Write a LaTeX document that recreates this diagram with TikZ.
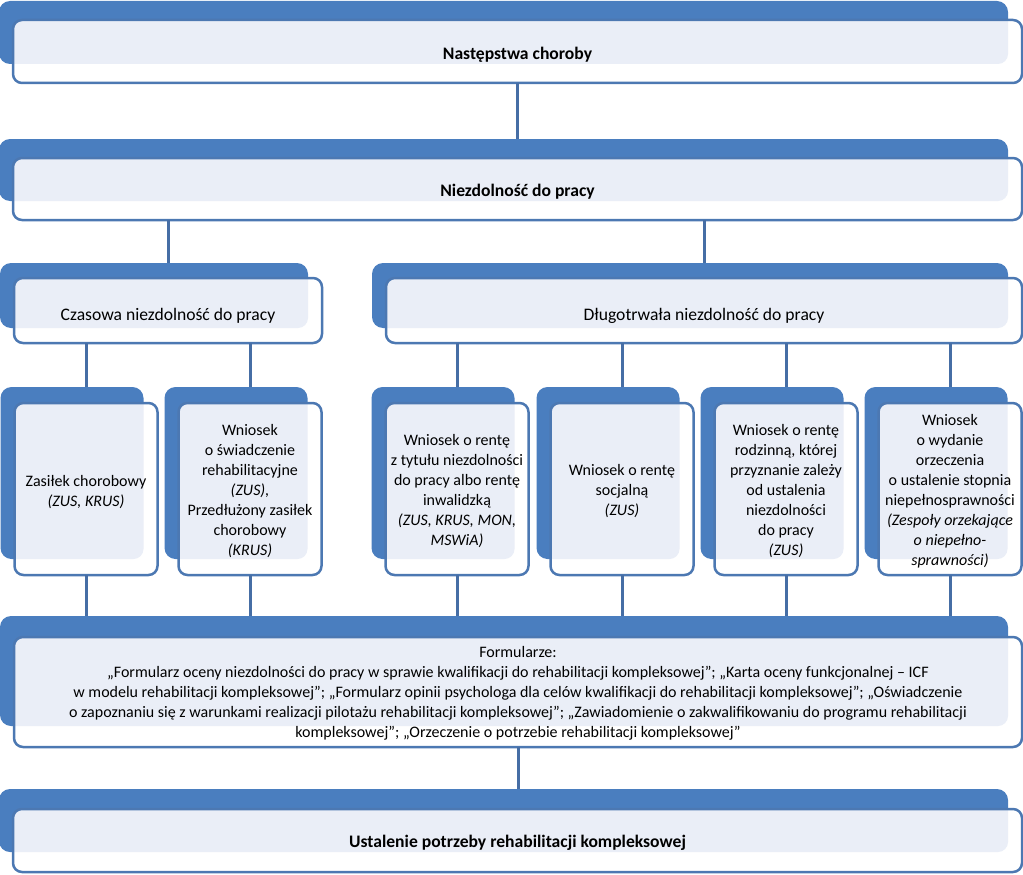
\documentclass[tikz,border=0pt]{standalone}
\usepackage{fontspec}
\setmainfont{Carlito}
\usetikzlibrary{calc}
\definecolor{backblue}{RGB}{74,126,191}
\definecolor{edgeblue}{RGB}{76,120,178}
\definecolor{lightfill}{RGB}{234,238,247}
\definecolor{connblue}{RGB}{70,110,165}
\def\bx{-14}
\def\by{-17}
\newcommand{\twobox}[7]{%
  \def\by{#6}%
  \node[backbox, minimum width=#4, minimum height=#5] (#1b) at ($(#2,#3)+(\bx,\by)$) {};
  \node[frontbox, minimum width=#4, minimum height=#5] (#1) at (#2,#3) {#7};
}
\newcommand{\lowr}[2]{\raisebox{-#1}[\height][\depth]{\begin{tabular}{@{}c@{}}#2\end{tabular}}}
\newcommand{\bigtxt}[2]{\raisebox{-#1}[\height][\depth]{\fontsize{17.6}{21}\selectfont #2}}
\begin{document}
\begin{tikzpicture}[x=1pt,y=-1pt,
  backbox/.style={fill=backblue, rounded corners=11pt, inner sep=0pt, outer sep=0pt},
  frontbox/.style={draw=edgeblue, line width=2.5pt, fill=white, rounded corners=9pt,
    inner sep=0pt, outer sep=0pt, align=center, text=black,
    font=\fontsize{16}{20}\selectfont,
    path picture={\fill[lightfill, rounded corners=10pt]
      ($(path picture bounding box.south west)+(\bx,\by)$) rectangle
      ($(path picture bounding box.north east)+(\bx,\by)$);}},
  conn/.style={draw=connblue, line width=3pt}]
\useasboundingbox (0,0) rectangle (1023,875);

\twobox{n1}{517.5}{51.5}{1009}{63}{-19}{\bigtxt{3pt}{\textbf{Następstwa choroby}}}
\twobox{n2}{517.5}{189}{1009}{62}{-19}{\bigtxt{3pt}{\textbf{Niezdolność do pracy}}}
\twobox{n3}{168}{310.5}{308}{65}{-15}{\bigtxt{5pt}{Czasowa niezdolność do pracy}}
\twobox{n4}{704}{310.5}{636}{65}{-15}{\bigtxt{5pt}{Długotrwała niezdolność do pracy}}

\twobox{n5}{86}{489}{143}{172}{-16}{\lowr{3pt}{Zasiłek chorobowy\\\textit{(ZUS, KRUS)}}}
\twobox{n6}{250}{489}{143}{172}{-16}{\lowr{2.5pt}{Wniosek\\o świadczenie\\rehabilitacyjne\\\textit{(ZUS),}\\Przedłużony zasiłek\\chorobowy\\\textit{(KRUS)}}}
\twobox{n7}{457}{489}{143}{172}{-16}{\lowr{2.5pt}{Wniosek o rentę\\z tytułu niezdolności\\do pracy albo rentę\\inwalidzką\\\textit{(ZUS, KRUS, MON,}\\\textit{MSWiA)}}}
\twobox{n8}{622}{489}{143}{172}{-16}{\lowr{2.5pt}{Wniosek o rentę\\socjalną\\\textit{(ZUS)}}}
\twobox{n9}{786}{489}{143}{172}{-16}{\lowr{2.5pt}{Wniosek o rentę\\rodzinną, której\\przyznanie zależy\\od ustalenia\\niezdolności\\do pracy\\\textit{(ZUS)}}}
\twobox{n10}{950}{489}{143}{172}{-16}{\lowr{2.5pt}{Wniosek\\o wydanie\\orzeczenia\\o ustalenie stopnia\\niepełnosprawności\\\textit{(Zespoły orzekające}\\\textit{o niepełno-}\\\textit{sprawności)}}}

\twobox{n11}{518}{692}{1008}{110}{-21}{\lowr{1pt}{Formularze:\\
„Formularz oceny niezdolności do pracy w sprawie kwalifikacji do rehabilitacji kompleksowej”; „Karta oceny funkcjonalnej – ICF\\
w modelu rehabilitacji kompleksowej”; „Formularz opinii psychologa dla celów kwalifikacji do rehabilitacji kompleksowej”; „Oświadczenie\\
o zapoznaniu się z warunkami realizacji pilotażu rehabilitacji kompleksowej”; „Zawiadomienie o zakwalifikowaniu do programu rehabilitacji\\
kompleksowej”; „Orzeczenie o potrzebie rehabilitacji kompleksowej”}}

\twobox{n12}{517.5}{840.5}{1009}{63}{-20}{\bigtxt{2.5pt}{\textbf{Ustalenie potrzeby rehabilitacji kompleksowej}}}

\draw[conn] (n1.south) -- (n1.south |- n2b.north);
\draw[conn] (n3 |- n2.south) -- (n3 |- n3b.north);
\draw[conn] (n4 |- n2.south) -- (n4 |- n4b.north);
\foreach \k in {n5,n6} \draw[conn] (\k |- n3.south) -- (\k |- \k b.north);
\foreach \k in {n7,n8,n9,n10} \draw[conn] (\k |- n4.south) -- (\k |- \k b.north);
\foreach \k in {n5,n6,n7,n8,n9,n10} \draw[conn] (\k.south) -- (\k.south |- n11b.north);
\draw[conn] (n11.south) -- (n11.south |- n12b.north);
\end{tikzpicture}
\end{document}
